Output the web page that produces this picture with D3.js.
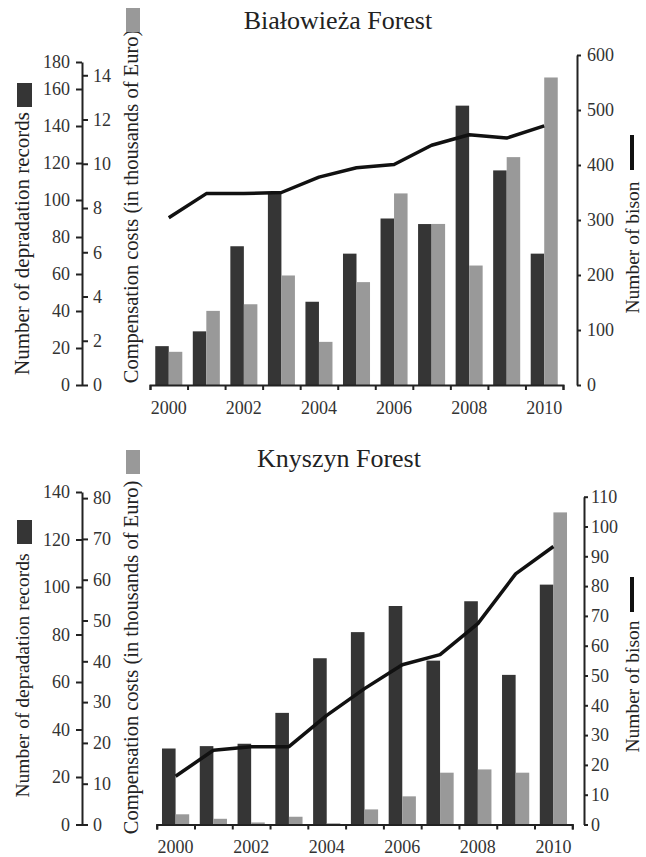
<html>
<head>
<meta charset="utf-8">
<script src="https://d3js.org/d3.v7.min.js"></script>
<style>
body { margin: 0; background: #fff; }
svg text { font-family: "Liberation Serif", "Times New Roman", serif !important; fill: #222; }
.axis path, .axis line { stroke: #222; stroke-width: 2; }
.axis text { font-size: 18px; fill: #333; }
</style>
</head>
<body>
<svg width="646" height="857"></svg>
<script>
// years on the x axis
var years = [2000, 2001, 2002, 2003, 2004, 2005, 2006, 2007, 2008, 2009, 2010];
var yearLabels = [2000, 2002, 2004, 2006, 2008, 2010];

// Bialowieza Forest
var bialRecords = [21, 29, 75, 104, 45, 71, 90, 87, 151, 116, 71];
var bialCosts = [1.5, 3.35, 3.65, 4.95, 1.95, 4.65, 8.66, 7.28, 5.4, 10.3, 13.9];
var bialBison = [304, 348, 348, 350, 378, 395, 401, 436, 455, 449, 471];
var bialRecordTicks = [0, 20, 40, 60, 80, 100, 120, 140, 160, 180];
var bialCostTicks = [0, 2, 4, 6, 8, 10, 12, 14];
var bialBisonTicks = [0, 100, 200, 300, 400, 500, 600];

// Knyszyn Forest
var knysRecords = [32, 33, 34, 47, 70, 81, 92, 69, 94, 63, 101];
var knysCosts = [2.5, 1.4, 0.5, 1.9, 0.3, 3.7, 6.9, 12.7, 13.5, 12.7, 76.5];
var knysBison = [16.2, 24.9, 26.1, 26.1, 36.6, 45.6, 53.6, 57, 67.4, 84.1, 93.3];
var knysRecordTicks = [0, 20, 40, 60, 80, 100, 120, 140];
var knysCostTicks = [0, 10, 20, 30, 40, 50, 60, 70, 80];
var knysBisonTicks = [0, 10, 20, 30, 40, 50, 60, 70, 80, 90, 100, 110];

var svg = d3.select("svg");
var serif = "Liberation Serif, Times New Roman, serif";

function drawPanel(p) {
  var g = svg.append("g");

  var x = d3.scaleBand().domain(years).range([p.x0, p.x1]).paddingInner(0.28).paddingOuter(0.14);
  var xl = d3.scaleLinear().domain([1999.5, 2010.5]).range([p.x0, p.x1]);
  var inner = d3.scaleBand().domain(["rec", "cost"]).range([0, x.bandwidth()]);

  var recY = d3.scaleLinear().domain(p.recDomain).range(p.recRange);
  var costY = d3.scaleLinear().domain(p.costDomain).range([p.base, p.top]);
  var bisonY = d3.scaleLinear().domain(p.bisonDomain).range([p.base, p.rtop]);

  // bars
  g.selectAll(".rec").data(p.records).enter().append("rect")
    .attr("x", function(d, i) { return x(years[i]) + inner("rec"); })
    .attr("y", function(d) { return recY(d); })
    .attr("width", inner.bandwidth())
    .attr("height", function(d) { return recY(0) - recY(d); })
    .style("fill", "#353535");
  g.selectAll(".cost").data(p.costs).enter().append("rect")
    .attr("x", function(d, i) { return x(years[i]) + inner("cost"); })
    .attr("y", function(d) { return costY(d); })
    .attr("width", inner.bandwidth())
    .attr("height", function(d) { return costY(0) - costY(d); })
    .style("fill", "#999999");

  // bison line
  var line = d3.line()
    .x(function(d, i) { return x(years[i]) + x.bandwidth() / 2; })
    .y(function(d) { return bisonY(d); });
  g.append("path").datum(p.bison).attr("d", line)
    .style("fill", "none").style("stroke", "#111").style("stroke-width", 3.5)
    .style("stroke-linejoin", "round");

  // x axis: ticks at year boundaries, labels at centres
  g.append("g").attr("class", "axis").attr("transform", "translate(0," + p.base + ")")
    .call(d3.axisBottom(xl).tickValues(d3.range(1999.5, 2011, 1)).tickFormat("").tickSize(5).tickSizeOuter(5));
  g.append("g").attr("class", "axis").attr("transform", "translate(0," + p.base + ")")
    .call(d3.axisBottom(x).tickValues(yearLabels).tickSize(0).tickPadding(16))
    .select(".domain").remove();

  // left axes
  g.append("g").attr("class", "axis").attr("transform", "translate(" + p.lx + ",0)")
    .call(d3.axisLeft(recY).tickValues(p.recTicks).tickSize(6).tickSizeOuter(0).tickPadding(6));
  var ca = g.append("g").attr("class", "axis").attr("transform", "translate(" + p.lx + ",0)")
    .call(d3.axisRight(costY).tickValues(p.costTicks).tickSize(6).tickSizeOuter(0).tickPadding(5));
  ca.select(".domain").remove();

  // right axis
  g.append("g").attr("class", "axis").attr("transform", "translate(" + p.rx + ",0)")
    .call(d3.axisRight(bisonY).tickValues(p.bisonTicks).tickSize(4).tickSizeOuter(0).tickPadding(p.rpad));

  g.selectAll(".axis").attr("font-family", serif);

  // title
  g.append("text").attr("x", p.titleX).attr("y", p.titleY)
    .style("text-anchor", "middle").style("font-size", "26px").text(p.title);

  // axis titles
  g.append("text").attr("transform", "translate(" + p.recLabX + "," + p.recLabY + ") rotate(-90)")
    .style("text-anchor", "middle").style("font-size", p.recLabSize).text("Number of depradation records");
  g.append("text").attr("transform", "translate(137.5," + p.costLabY + ") rotate(-90)")
    .style("text-anchor", "middle").style("font-size", "20.5px").text("Compensation costs (in thousands of Euro)");
  g.append("text").attr("transform", "translate(638.5," + p.bisonLabY + ") rotate(-90)")
    .style("text-anchor", "middle").style("font-size", "19.5px").text("Number of bison");

  // legend keys
  g.append("rect").attr("x", 17).attr("y", p.darkKeyY).attr("width", 15).attr("height", 24).style("fill", "#353535");
  g.append("rect").attr("x", 126).attr("y", p.grayKeyY).attr("width", 14).attr("height", 24).style("fill", "#999999");
  g.append("rect").attr("x", 630).attr("y", p.lineKeyY).attr("width", 4).attr("height", 35).style("fill", "#111");
}

drawPanel({
  records: bialRecords, costs: bialCosts, bison: bialBison,
  recTicks: bialRecordTicks, costTicks: bialCostTicks, bisonTicks: bialBisonTicks,
  recDomain: [0, 160, 180], recRange: [385, 89, 62],
  costDomain: [0, 14.6], bisonDomain: [0, 600],
  x0: 150, x1: 563, base: 385, top: 62, rtop: 55, lx: 82, rx: 577, rpad: 6,
  title: "Białowieża Forest", titleX: 338, titleY: 29,
  recLabX: 29, recLabY: 243.5, recLabSize: "21px", costLabY: 206.5, bisonLabY: 247.5,
  darkKeyY: 83, grayKeyY: 8, lineKeyY: 135
});

drawPanel({
  records: knysRecords, costs: knysCosts, bison: knysBison,
  recTicks: knysRecordTicks, costTicks: knysCostTicks, bisonTicks: knysBisonTicks,
  recDomain: [0, 140], recRange: [824.5, 492],
  costDomain: [0, 81.5], bisonDomain: [0, 110],
  x0: 156.7, x1: 572.3, base: 824.5, top: 492, rtop: 496.7, lx: 82, rx: 584, rpad: 3,
  title: "Knyszyn Forest", titleX: 339, titleY: 467,
  recLabX: 29, recLabY: 675.5, recLabSize: "19.5px", costLabY: 657.5, bisonLabY: 686.5,
  darkKeyY: 520, grayKeyY: 450, lineKeyY: 577
});
</script>
</body>
</html>
